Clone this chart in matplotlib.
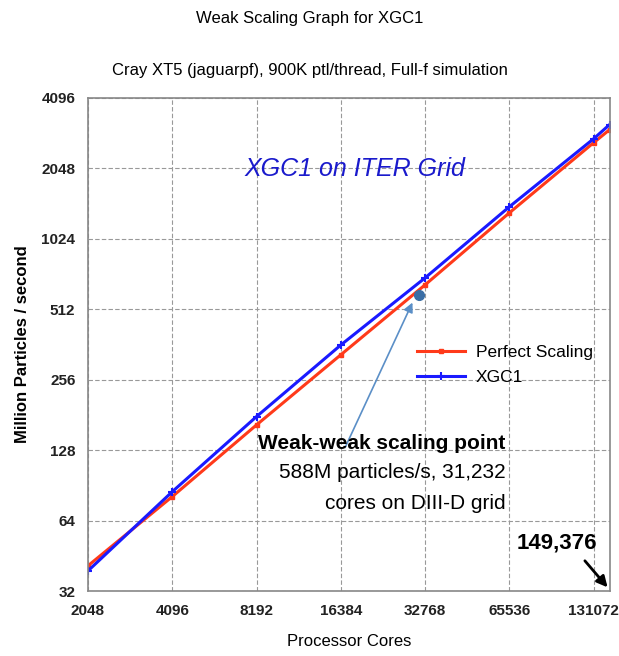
"""Weak scaling graph for XGC1 on Cray XT5."""

import matplotlib

matplotlib.use("Agg")
import matplotlib.pyplot as plt
from matplotlib.ticker import FixedLocator, FixedFormatter, NullLocator

plt.rcParams["font.family"] = ["Liberation Sans", "DejaVu Sans"]

cores = [2048, 4096, 8192, 16384, 32768, 65536, 131072, 149376]
perfect = [41, 81, 164, 327, 651, 1322, 2636, 2995]
xgc1 = [39, 85, 178, 360, 697, 1403, 2740, 3148]

point_cores = 31232
point_rate = 588

xticks = [2048, 4096, 8192, 16384, 32768, 65536, 131072]
yticks = [32, 64, 128, 256, 512, 1024, 2048, 4096]

fig = plt.figure(figsize=(6.19, 6.56), dpi=100)
ax = fig.add_axes([0.142, 0.099, 0.843, 0.752])

ax.plot(cores, perfect, color="#ff3a1a", linewidth=2.2, marker="s", markersize=3.5,
        label="Perfect Scaling")
ax.plot(cores, xgc1, color="#1a1aff", linewidth=2.2, marker="+", markersize=6,
        markeredgewidth=1.5, label="XGC1")
ax.plot([point_cores], [point_rate], "o", color="#3a6ea5", markersize=7, zorder=5)

ax.set_xscale("log", base=2)
ax.set_yscale("log", base=2)
ax.set_xlim(2048, 149376)
ax.set_ylim(32, 4096)
ax.xaxis.set_major_locator(FixedLocator(xticks))
ax.xaxis.set_major_formatter(FixedFormatter([str(v) for v in xticks]))
ax.yaxis.set_major_locator(FixedLocator(yticks))
ax.yaxis.set_major_formatter(FixedFormatter([str(v) for v in yticks]))
ax.xaxis.set_minor_locator(NullLocator())
ax.yaxis.set_minor_locator(NullLocator())
ax.tick_params(length=0, labelsize=11, pad=9)
for lab in ax.get_xticklabels() + ax.get_yticklabels():
    lab.set_fontweight("bold")
    lab.set_color("#222222")

ax.grid(True, linestyle=(0, (4, 2)), color="#999999", linewidth=0.8)
for s in ax.spines.values():
    s.set_color("#888888")
    s.set_linewidth(1.2)

ax.set_xlabel("Processor Cores", fontsize=12, labelpad=12)
ax.set_ylabel("Million Particles / second", fontsize=12, fontweight="bold", labelpad=8)

fig.text(0.5, 0.972, "Weak Scaling Graph for XGC1", ha="center", va="center", fontsize=12)
fig.text(0.5, 0.893, "Cray XT5 (jaguarpf), 900K ptl/thread, Full-f simulation",
         ha="center", va="center", fontsize=12)

ax.text(0.3, 0.855, "XGC1 on ITER Grid", transform=ax.transAxes, fontsize=18,
        style="italic", color="#1a1acc", ha="left", va="center")

ax.legend(loc="center left", bbox_to_anchor=(0.6, 0.458), frameon=False, fontsize=12.5,
          handlelength=2.8, handletextpad=0.6, labelspacing=0.55)

ax.annotate("", xy=(29800, 560), xytext=(16800, 128),
            arrowprops=dict(arrowstyle="-|>", color="#5b8fc7", lw=1.2, mutation_scale=14))
ax.text(0.8, 0.3, "Weak-weak scaling point", transform=ax.transAxes, fontsize=15,
        fontweight="bold", ha="right", va="center")
ax.text(0.80, 0.24, "588M particles/s, 31,232", transform=ax.transAxes, fontsize=15,
        ha="right", va="center")
ax.text(0.80, 0.178, "cores on DIII-D grid", transform=ax.transAxes, fontsize=15,
        ha="right", va="center")

ax.text(0.975, 0.097, "149,376", transform=ax.transAxes, fontsize=16,
        fontweight="bold", ha="right", va="center")
ax.annotate("", xy=(149000, 32.5), xytext=(120000, 44),
            arrowprops=dict(arrowstyle="-|>", color="black", lw=2, mutation_scale=16))

fig.savefig("out.png", dpi=100)
